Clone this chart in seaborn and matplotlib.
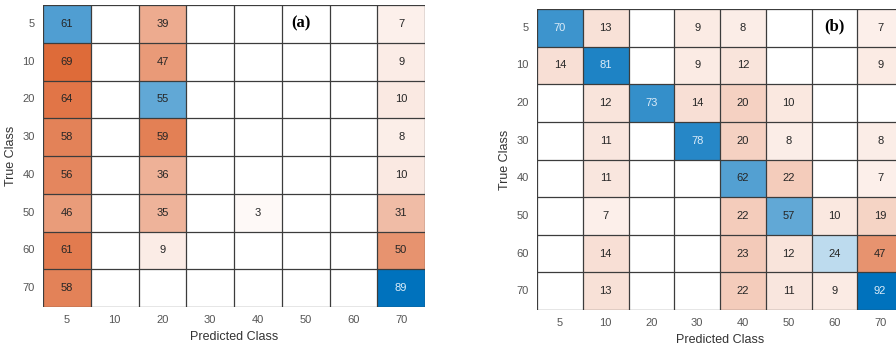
import numpy as np
import pandas as pd
import matplotlib
matplotlib.use("Agg")
import matplotlib.pyplot as plt
from matplotlib.colors import LinearSegmentedColormap
import seaborn as sns

# class labels (true and predicted)
classes = [5, 10, 20, 30, 40, 50, 60, 70]

# confusion matrix (a): rows = true class, cols = predicted class
cm_a = [
    [61, 0, 39, 0, 0, 0, 0, 7],
    [69, 0, 47, 0, 0, 0, 0, 9],
    [64, 0, 55, 0, 0, 0, 0, 10],
    [58, 0, 59, 0, 0, 0, 0, 8],
    [56, 0, 36, 0, 0, 0, 0, 10],
    [46, 0, 35, 0, 3, 0, 0, 31],
    [61, 0, 9, 0, 0, 0, 0, 50],
    [58, 0, 0, 0, 0, 0, 0, 89],
]

# confusion matrix (b)
cm_b = [
    [70, 13, 0, 9, 8, 0, 0, 7],
    [14, 81, 0, 9, 12, 0, 0, 9],
    [0, 12, 73, 14, 20, 10, 0, 0],
    [0, 11, 0, 78, 20, 8, 0, 8],
    [0, 11, 0, 0, 62, 22, 0, 7],
    [0, 7, 0, 0, 22, 57, 10, 19],
    [0, 14, 0, 0, 23, 12, 24, 47],
    [0, 13, 0, 0, 22, 11, 9, 92],
]

panel_tags = ["(a)", "(b)"]

sns.set_style("white")
plt.rcParams["font.family"] = ["Liberation Sans", "DejaVu Sans"]

# MATLAB confusionchart-like colours
blue_cmap = LinearSegmentedColormap.from_list("diag", ["#ffffff", "#0072bd"])
orange_cmap = LinearSegmentedColormap.from_list("off", ["#ffffff", "#d95319"])

fig = plt.figure(figsize=(8.96, 3.48), dpi=100)
ax_a = fig.add_axes([43 / 896, 41 / 348, 382 / 896, 302 / 348])
ax_b = fig.add_axes([537 / 896, 38 / 348, 366 / 896, 301 / 348])


def draw_cm(ax, values, tag, tag_pos, off_max):
    df = pd.DataFrame(values, index=classes, columns=classes)
    arr = df.values
    n = len(classes)
    diag = np.eye(n, dtype=bool)
    zero = arr == 0

    # off-diagonal cells
    sns.heatmap(df, mask=diag | zero, cmap=orange_cmap, vmin=0, vmax=off_max,
                annot=True, fmt="d", cbar=False, ax=ax,
                annot_kws={"fontsize": 8, "color": "#262626"})
    # diagonal cells
    sns.heatmap(df, mask=~diag | zero, cmap=blue_cmap, vmin=0, vmax=arr.max(),
                annot=True, fmt="d", cbar=False, ax=ax,
                annot_kws={"fontsize": 8, "color": "#262626"})

    # light text on strong diagonal cells
    for t in ax.texts:
        x, y = t.get_position()
        r, c = int(y), int(x)
        if r == c and arr[r, c] >= 65:
            t.set_color("#dcecf8")

    for k in range(n + 1):
        ax.axhline(k, color="#3c3c3c", lw=0.9)
        ax.axvline(k, color="#3c3c3c", lw=0.9)

    ax.set_xlabel("Predicted Class", fontsize=9, color="#333333", labelpad=4)
    ax.set_ylabel("True Class", fontsize=9, color="#333333", labelpad=4)
    ax.tick_params(axis="both", length=0, labelsize=8, colors="#555555", pad=6)
    ax.set_yticklabels(classes, rotation=0)
    ax.set_xticklabels(classes, rotation=0)

    ax.text(tag_pos[0], tag_pos[1], tag, fontsize=12, fontweight="bold",
            family=["Liberation Serif", "DejaVu Serif"], ha="center", va="center",
            color="black")


draw_cm(ax_a, cm_a, panel_tags[0], (5.4, 0.5), 80)
draw_cm(ax_b, cm_b, panel_tags[1], (6.5, 0.45), 75)

fig.savefig("out.png", dpi=100, facecolor="white")
